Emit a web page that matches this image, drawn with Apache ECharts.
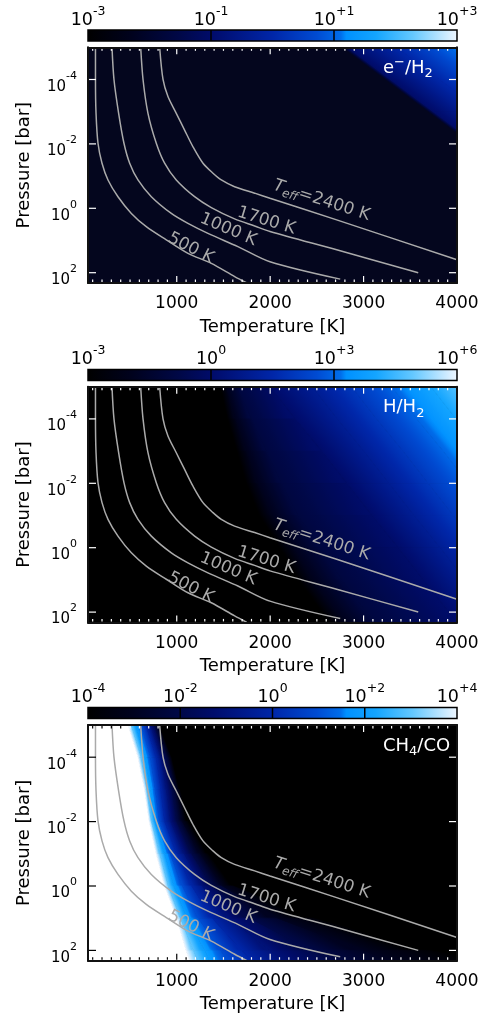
<!DOCTYPE html>
<html><head><meta charset="utf-8">
<script src="https://cdn.jsdelivr.net/npm/echarts@6/dist/echarts.min.js"></script>
<style>html,body{margin:0;padding:0;background:#fff}#c{width:482px;height:1018px}</style>
</head><body><div id="c"></div>
<script>
// ---------------- DATA ----------------
const tempTickLabels = [1000, 2000, 3000, 4000];        // K
const tempMajorTicks = [1000, 2000, 3000];
const tempMinorTicks = [100,200,300,400,500,600,700,800,900,1100,1200,1300,1400,1500,1600,1700,1800,1900,
  2100,2200,2300,2400,2500,2600,2700,2800,2900,3100,3200,3300,3400,3500,3600,3700,3800,3900];
const pressTickExps = [-4, -2, 0, 2];                    // log10(P / bar)

// T-P profiles (T in K, log10 P in bar)
const prof500T  = [130, 130, 136, 157, 200, 264, 371, 514, 674, 888, 1120, 1370, 1620, 1750];
const prof500P  = [-5, -4, -2.95, -2.02, -1.4, -0.88, -0.36, 0.16, 0.57, 0.98, 1.4, 1.71, 2.12, 2.32];
const prof1000T = [307, 328, 378, 435, 496, 585, 728, 942, 1120, 1334, 1655, 1998, 2750];
const prof1000P = [-5, -4, -2.95, -2.02, -1.4, -0.88, -0.36, 0.16, 0.47, 0.78, 1.19, 1.66, 2.2];
const prof1700T = [614, 639, 692, 781, 870, 995, 1191, 1370, 1619, 1834, 1998, 2712, 3585];
const prof1700P = [-5, -4, -2.95, -2.02, -1.4, -0.88, -0.36, -0.02, 0.33, 0.55, 0.72, 1.29, 2.0];
const prof2400T = [817, 853, 906, 995, 1084, 1174, 1281, 1388, 1477, 1619, 1834, 1998, 2712, 4000];
const prof2400P = [-5, -4, -3.47, -2.95, -2.43, -1.91, -1.4, -1.09, -0.88, -0.67, -0.47, -0.31, 0.36, 1.6];
const profileLabels = ['500 K', '1000 K', '1700 K', '{t|T}{s|eff}{n|=2400 K}'];

// Panel 1: e-/H2  (isolines of log10 value: temperature at each pressure row)
const cbTicksE = [-3, -1, 1, 3];
const rowsE = [-5, -4, -3, -2];
const levelsE = [-2, -1, 0, 1, 2];
const isoE = [
  [2780, 3240, 3700, 4160],
  [2830, 3290, 3750, 4210],
  [3350, 3810, 4270, 4730],
  [3900, 4360, 4820, 5280],
  [4450, 4910, 5370, 5830]
];

// Panel 2: H/H2
const cbTicksH = [-3, 0, 3, 6];
const rowsH = [-5, -4, -3, -2, -1, 0, 1, 2, 2.32];
const levelsH = [-3, -2, -1, 0, 1, 2, 3, 4, 5];
const isoH = [
  [1465, 1540, 1640, 1740, 1880, 2100, 2300, 2550, 2630],
  [1530, 1630, 1750, 1870, 2025, 2250, 2460, 2710, 2800],
  [1650, 1800, 1960, 2120, 2300, 2540, 2770, 3030, 3120],
  [2000, 2270, 2550, 2820, 3090, 3370, 3640, 3910, 4000],
  [2450, 2720, 3000, 3270, 3540, 3820, 4090, 4360, 4450],
  [2870, 3140, 3420, 3690, 3960, 4240, 4510, 4780, 4870],
  [3300, 3570, 3850, 4120, 4390, 4670, 4940, 5210, 5300],
  [3720, 3990, 4270, 4540, 4810, 5090, 5360, 5630, 5720],
  [4100, 4370, 4650, 4920, 5190, 5470, 5740, 6010, 6100]
];

// Panel 3: CH4/CO
const cbTicksC = [-4, -2, 0, 2, 4];
const rowsC = [-5, -4, -3, -2, -1, 0, 1, 2, 2.32];
const levelsC = [4, 3, 2, 1, 0, -1, -2, -3, -4];
const isoC = [
  [480, 585, 655, 705, 780, 870, 1000, 1100, 1140],
  [515, 620, 680, 730, 820, 910, 1040, 1180, 1230],
  [560, 660, 720, 765, 870, 970, 1110, 1300, 1350],
  [620, 720, 770, 815, 930, 1060, 1230, 1470, 1550],
  [670, 780, 830, 870, 1000, 1160, 1380, 1700, 1800],
  [720, 830, 890, 935, 1080, 1270, 1560, 2000, 2150],
  [760, 880, 950, 1000, 1160, 1380, 1780, 2450, 2650],
  [790, 920, 1000, 1060, 1250, 1490, 2080, 3000, 3300],
  [815, 945, 1030, 1120, 1335, 1600, 2450, 3700, 4300]
];

// ---------------- STYLE / LAYOUT ----------------
const FONT = 'DejaVu Sans';
const LINE_GRAY = '#aaaaaa';
const T_MIN = 50, T_MAX = 4000, LP_MIN = -5, LP_MAX = 2.32;
const cmapStops = [
  [0.00, 0, 0, 0], [0.12, 0, 2, 30], [0.25, 0, 8, 72], [0.34, 0, 12, 108],
  [0.50, 0, 38, 168], [0.62, 0, 75, 210], [0.685, 0, 110, 235], [0.70, 0, 145, 255],
  [0.78, 20, 165, 255], [0.88, 100, 200, 255], [1.00, 238, 246, 255]
];
const labelLayout = [[1150, 1.24, -27], [1552, 0.66, -23], [1960, 0.39, -17], [2551, -0.24, -18]];

const panels = [
  { title: '{b|e}{p|\u2212}{b|/H}{d|2}', cbTicks: cbTicksE, rows: rowsE, levels: levelsE, iso: isoE, bg: '#04061e', top: 47.3, cbTop: 30, fillLeft: null },
  { title: '{b|H/H}{d|2}', cbTicks: cbTicksH, rows: rowsH, levels: levelsH, iso: isoH, bg: '#000000', top: 386.7, cbTop: 369.4, fillLeft: null },
  { title: '{b|CH}{d|4}{b|/CO}', cbTicks: cbTicksC, rows: rowsC, levels: levelsC, iso: isoC, bg: '#000000', top: 725, cbTop: 707.6, fillLeft: '#ffffff' }
];

function cmap(f) {
  f = Math.max(0, Math.min(1, f));
  for (let i = 1; i < cmapStops.length; i++) {
    const a = cmapStops[i - 1], b = cmapStops[i];
    if (f <= b[0]) {
      const t = (f - a[0]) / ((b[0] - a[0]) || 1);
      return 'rgb(' + [1, 2, 3].map(j => Math.round(a[j] + (b[j] - a[j]) * t)).join(',') + ')';
    }
  }
  const l = cmapStops[cmapStops.length - 1];
  return 'rgb(' + l[1] + ',' + l[2] + ',' + l[3] + ')';
}
const cbGradStops = cmapStops.map(s => ({ offset: s[0], color: 'rgb(' + s[1] + ',' + s[2] + ',' + s[3] + ')' }));

function fmtExp(v, plus) {
  const n = Math.round(v);
  if (n > 0 && plus) return '+' + n;
  if (n < 0) return '-' + Math.abs(n);
  return String(n);
}
const yRich = {
  b: { fontSize: 15, fontFamily: FONT, color: '#000', lineHeight: 24, verticalAlign: 'bottom' },
  s: { fontSize: 11, fontFamily: FONT, color: '#000', lineHeight: 12, verticalAlign: 'top' }
};
const cbRich = {
  b: { fontSize: 17.5, fontFamily: FONT, color: '#000', lineHeight: 24, verticalAlign: 'bottom' },
  s: { fontSize: 12.5, fontFamily: FONT, color: '#000', lineHeight: 13, verticalAlign: 'top' }
};
const titleRich = {
  b: { fontSize: 18, fontFamily: FONT, fill: '#fff', lineHeight: 24, verticalAlign: 'middle' },
  p: { fontSize: 13, fontFamily: FONT, fill: '#fff', lineHeight: 12, verticalAlign: 'top' },
  d: { fontSize: 13, fontFamily: FONT, fill: '#fff', lineHeight: 12, verticalAlign: 'bottom' }
};
const profLabelRich = {
  t: { fontSize: 17, fontFamily: FONT, fill: LINE_GRAY, fontStyle: 'italic', lineHeight: 22 },
  s: { fontSize: 12, fontFamily: FONT, fill: LINE_GRAY, fontStyle: 'italic', lineHeight: 12, verticalAlign: 'bottom' },
  n: { fontSize: 17, fontFamily: FONT, fill: LINE_GRAY, lineHeight: 22 }
};

function bandQuads(rows, levels, iso) {
  const out = [];
  for (let k = 0; k < levels.length - 1; k++)
    for (let i = 0; i < rows.length - 1; i++)
      out.push([iso[k][i], rows[i], iso[k][i + 1], rows[i + 1], iso[k + 1][i + 1], rows[i + 1], iso[k + 1][i], rows[i], levels[k], levels[k + 1]]);
  return out;
}

const profiles = [[prof500T, prof500P], [prof1000T, prof1000P], [prof1700T, prof1700P], [prof2400T, prof2400P]];

const grid = [], xAxis = [], yAxis = [], series = [], graphic = [];
const axLine = { show: true, onZero: false, lineStyle: { color: '#111', width: 2 } };
const noLine = { show: false, onZero: false };

panels.forEach((p, pi) => {
  const cbMin = p.cbTicks[0], cbMax = p.cbTicks[p.cbTicks.length - 1];
  const gi = grid.length;
  grid.push({ left: 88, width: 369, top: p.top, height: 235.7, show: true, backgroundColor: p.bg, borderWidth: 0 });
  const xi = xAxis.length;
  xAxis.push({ gridIndex: gi, type: 'value', min: T_MIN, max: T_MAX, position: 'bottom', z: 10,
    axisLine: axLine, axisTick: { show: false },
    axisLabel: { show: true, customValues: tempTickLabels, fontSize: 17, lineHeight: 20, color: '#000', margin: 11,
      fontFamily: FONT, formatter: v => String(Math.round(v)) },
    splitLine: { show: false },
    name: 'Temperature [K]', nameLocation: 'middle', nameGap: 33,
    nameTextStyle: { fontSize: 18, lineHeight: 22, color: '#000', fontFamily: FONT } });
  xAxis.push({ gridIndex: gi, type: 'value', min: T_MIN, max: T_MAX, position: 'top', z: 10, axisLine: axLine,
    axisTick: { show: false }, axisLabel: { show: false }, splitLine: { show: false } });
  const yi = yAxis.length;
  yAxis.push({ gridIndex: gi, type: 'value', min: LP_MIN, max: LP_MAX, inverse: true, position: 'left', z: 10,
    axisLine: axLine, axisTick: { show: false },
    axisLabel: { show: true, customValues: pressTickExps, margin: 11, padding: [6, 0, 0, 0],
      formatter: v => '{b|10}{s|' + fmtExp(v, false) + '}', rich: yRich },
    splitLine: { show: false },
    name: 'Pressure [bar]', nameLocation: 'middle', nameGap: 53, nameRotate: 90,
    nameTextStyle: { fontSize: 18, lineHeight: 22, color: '#000', fontFamily: FONT } });
  yAxis.push({ gridIndex: gi, type: 'value', min: LP_MIN, max: LP_MAX, inverse: true, position: 'right', z: 10,
    axisLine: axLine, axisTick: { show: false }, axisLabel: { show: false }, splitLine: { show: false } });

  // colour bar grid
  const cgi = grid.length;
  grid.push({ left: 88, width: 369, top: p.cbTop, height: 11 });
  const cxi = xAxis.length;
  xAxis.push({ gridIndex: cgi, type: 'value', min: cbMin, max: cbMax, position: 'top',
    axisLine: noLine, axisTick: { show: false }, splitLine: { show: false },
    axisLabel: { show: true, customValues: p.cbTicks, margin: 1, formatter: v => '{b|10}{s|' + fmtExp(v, true) + '}', rich: cbRich } });
  const cyi = yAxis.length;
  yAxis.push({ gridIndex: cgi, type: 'value', min: 0, max: 1, show: false });

  series.push({ type: 'custom', xAxisIndex: cxi, yAxisIndex: cyi, silent: true, clip: false, z: 2,
    data: [[cbMin, 0]],
    renderItem: (params, api) => {
      const p0 = api.coord([cbMin, 1]), p1 = api.coord([cbMax, 0]);
      const shape = { x: p0[0], y: p0[1], width: p1[0] - p0[0], height: p1[1] - p0[1] };
      const children = [{ type: 'rect', shape, style: { fill: new echarts.graphic.LinearGradient(0, 0, 1, 0, cbGradStops) } }];
      p.cbTicks.slice(1, -1).forEach(t => {
        const q = api.coord([t, 0]);
        children.push({ type: 'line', shape: { x1: q[0], y1: p0[1], x2: q[0], y2: p1[1] }, style: { stroke: '#000', lineWidth: 1.5 } });
      });
      children.push({ type: 'rect', shape, style: { fill: 'none', stroke: '#000', lineWidth: 1.5 } });
      return { type: 'group', children };
    } });

  // field: white region beyond the highest isoline (panel 3)
  if (p.fillLeft) {
    series.push({ type: 'custom', xAxisIndex: xi, yAxisIndex: yi, silent: true, clip: true, z: 2,
      data: p.rows.map((r, i) => [p.iso[0][i], r]),
      renderItem: (params, api) => {
        if (params.dataIndex !== 0) return null;
        const pts = p.rows.map((r, i) => api.coord([p.iso[0][i], r]));
        pts.push(api.coord([T_MIN, p.rows[p.rows.length - 1]]));
        pts.push(api.coord([T_MIN, p.rows[0]]));
        return { type: 'polygon', shape: { points: pts }, style: { fill: p.fillLeft, stroke: p.fillLeft, lineWidth: 1 } };
      } });
  }
  // field bands between isolines
  series.push({ type: 'custom', xAxisIndex: xi, yAxisIndex: yi, silent: true, clip: true, z: 2,
    data: bandQuads(p.rows, p.levels, p.iso),
    renderItem: (params, api) => {
      const A = api.coord([api.value(0), api.value(1)]);
      const B = api.coord([api.value(2), api.value(3)]);
      const C = api.coord([api.value(4), api.value(5)]);
      const D = api.coord([api.value(6), api.value(7)]);
      const f0 = (api.value(8) - cbMin) / (cbMax - cbMin), f1 = (api.value(9) - cbMin) / (cbMax - cbMin);
      let ux = B[0] - A[0], uy = B[1] - A[1];
      const ul = Math.hypot(ux, uy) || 1; ux /= ul; uy /= ul;
      const nx = -uy, ny = ux;
      const M1 = [(A[0] + B[0]) / 2, (A[1] + B[1]) / 2], M2 = [(C[0] + D[0]) / 2, (C[1] + D[1]) / 2];
      let d = (M2[0] - M1[0]) * nx + (M2[1] - M1[1]) * ny;
      if (Math.abs(d) < 0.5) d = d < 0 ? -0.5 : 0.5;
      const stops = [];
      for (let s = 0; s <= 8; s++) { const t = s / 8; stops.push({ offset: t, color: cmap(f0 + (f1 - f0) * t) }); }
      const grad = new echarts.graphic.LinearGradient(M1[0], M1[1], M1[0] + nx * d, M1[1] + ny * d, stops, true);
      return { type: 'polygon', shape: { points: [A, B, C, D] }, style: { fill: grad, stroke: grad, lineWidth: 0.8 } };
    } });

  // T-P profiles
  profiles.forEach(pr => {
    series.push({ type: 'line', xAxisIndex: xi, yAxisIndex: yi, silent: true, showSymbol: false, smooth: 0.3, z: 3,
      data: pr[0].map((t, j) => [t, pr[1][j]]),
      lineStyle: { color: LINE_GRAY, width: 1.5 } });
  });
  // profile labels
  series.push({ type: 'custom', xAxisIndex: xi, yAxisIndex: yi, silent: true, clip: false, z: 4,
    data: labelLayout.map((l, j) => [l[0], l[1], l[2], j]),
    renderItem: (params, api) => {
      const q = api.coord([api.value(0), api.value(1)]);
      const idx = api.value(3);
      const txt = profileLabels[idx];
      return { type: 'text', x: q[0], y: q[1], rotation: api.value(2) * Math.PI / 180,
        style: { text: txt.indexOf('{') === 0 ? txt : '{n|' + txt + '}', rich: profLabelRich, fill: LINE_GRAY,
          fontSize: 17, fontFamily: FONT, align: 'center', verticalAlign: 'middle' } };
    } });

  // inward tick marks (white on dark field, black on the white field region)
  const whiteTop = p.fillLeft ? p.iso[0][0] : -Infinity;
  const whiteBot = p.fillLeft ? p.iso[0][p.iso[0].length - 1] : -Infinity;
  series.push({ type: 'custom', xAxisIndex: xi, yAxisIndex: yi, silent: true, clip: false, z: 6,
    data: [[T_MIN, LP_MIN]],
    renderItem: (params, api) => {
      const ch = [];
      const top = api.coord([T_MIN, LP_MIN])[1] + 1, bot = api.coord([T_MIN, LP_MAX])[1] - 1;
      const left = api.coord([T_MIN, 0])[0] + 1, right = api.coord([T_MAX, 0])[0] - 1;
      const seg = (x1, y1, x2, y2, c) => ch.push({ type: 'line', shape: { x1, y1, x2, y2 }, style: { stroke: c, lineWidth: 1.2 } });
      tempMajorTicks.forEach(t => {
        const x = api.coord([t, 0])[0];
        seg(x, bot, x, bot - 6, t < whiteBot ? '#000' : '#fff');
        seg(x, top, x, top + 6, t < whiteTop ? '#000' : '#fff');
      });
      tempMinorTicks.forEach(t => {
        const x = api.coord([t, 0])[0];
        seg(x, bot, x, bot - 2.5, t < whiteBot ? '#000' : '#fff');
        seg(x, top, x, top + 2.5, t < whiteTop ? '#000' : '#fff');
      });
      pressTickExps.forEach(e => {
        const y = api.coord([T_MIN, e])[1];
        seg(left, y, left + 7, y, p.fillLeft ? '#000' : '#fff');
        seg(right, y, right - 7, y, '#fff');
      });
      return { type: 'group', children: ch };
    } });

  graphic.push({ type: 'text', x: 383, y: p.top + 9, z: 100, silent: true,
    style: { text: p.title, rich: titleRich, fill: '#fff', fontSize: 18, fontFamily: FONT, align: 'left', verticalAlign: 'top' } });
});

const chart = echarts.init(document.getElementById('c'), null, { renderer: 'canvas' });
chart.setOption({ animation: false, backgroundColor: '#ffffff', textStyle: { fontFamily: FONT }, grid, xAxis, yAxis, series, graphic });
</script></body></html>
